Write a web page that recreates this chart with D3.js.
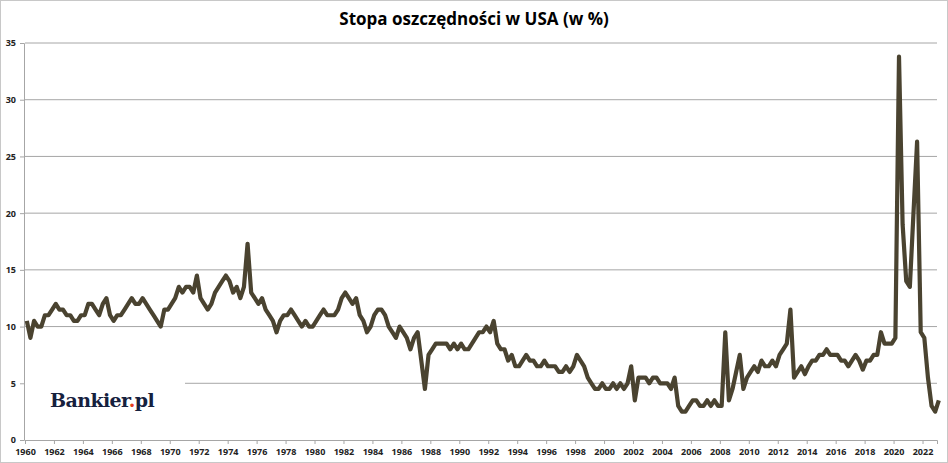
<!DOCTYPE html>
<html><head><meta charset="utf-8">
<script src="https://cdn.jsdelivr.net/npm/d3@7"></script>
<style>body{margin:0;background:#fff}svg{display:block}</style>
</head><body><div id="chart"></div>
<script>
// quarterly readings, 1960 Q1 .. 2022 Q4, then Jan 2023
const startYear = 1960;
const savingRate = [
  10.5, 9, 10.5, 10,   10, 11, 11, 11.5,   12, 11.5, 11.5, 11,   11, 10.5, 10.5, 11,
  11, 12, 12, 11.5,    11, 12, 12.5, 11,   10.5, 11, 11, 11.5,   12, 12.5, 12, 12,
  12.5, 12, 11.5, 11,  10.5, 10, 11.5, 11.5, 12, 12.5, 13.5, 13, 13.5, 13.5, 13, 14.5,
  12.5, 12, 11.5, 12,  13, 13.5, 14, 14.5, 14, 13, 13.5, 12.5,  13.5, 17.3, 13, 12.5,
  12, 12.5, 11.5, 11,  10.5, 9.5, 10.5, 11, 11, 11.5, 11, 10.5, 10, 10.5, 10, 10,
  10.5, 11, 11.5, 11,  11, 11, 11.5, 12.5, 13, 12.5, 12, 12.5, 11, 10.5, 9.5, 10,
  11, 11.5, 11.5, 11,  10, 9.5, 9, 10,     9.5, 9, 8, 9,        9.5, 7, 4.5, 7.5,
  8, 8.5, 8.5, 8.5,    8.5, 8, 8.5, 8,     8.5, 8, 8, 8.5,      9, 9.5, 9.5, 10,
  9.5, 10.5, 8.5, 8,   8, 7, 7.5, 6.5,     6.5, 7, 7.5, 7,      7, 6.5, 6.5, 7,
  6.5, 6.5, 6.5, 6,    6, 6.5, 6, 6.5,     7.5, 7, 6.5, 5.5,    5, 4.5, 4.5, 5,
  4.5, 4.5, 5, 4.5,    5, 4.5, 5, 6.5,     3.5, 5.5, 5.5, 5.5,  5, 5.5, 5.5, 5,
  5, 5, 4.5, 5.5,      3, 2.5, 2.5, 3,     3.5, 3.5, 3, 3,      3.5, 3, 3.5, 3,
  3, 9.5, 3.5, 4.5,    6, 7.5, 4.5, 5.5,   6, 6.5, 6, 7,        6.5, 6.5, 7, 6.5,
  7.5, 8, 8.5, 11.5,   5.5, 6, 6.5, 5.8,   6.5, 7, 7, 7.5,      7.5, 8, 7.5, 7.5,
  7.5, 7, 7, 6.5,      7, 7.5, 7, 6.2,     7, 7, 7.5, 7.5,      9.5, 8.5, 8.5, 8.5,
  9, 33.8, 19, 14,     13.5, 20, 26.3, 9.5, 9, 5.5, 3, 2.5,     3.5
];
const yTicks = [0, 5, 10, 15, 20, 25, 30, 35];
const xTicks = d3.range(1960, 2023, 2);
const title = "Stopa oszczędności w USA (w %)";

const W = 948, H = 463;
const svg = d3.select("#chart").append("svg").attr("width", W).attr("height", H);
svg.append("rect").attr("x", 0.5).attr("y", 0.5).attr("width", W - 1).attr("height", H - 1)
  .attr("fill", "#fff").attr("stroke", "#c8c8c8");

const x = d3.scaleLinear().domain([1960, 2023]).range([25, 937]);
const y = d3.scaleLinear().domain([0, 35]).range([440, 43]);

svg.append("text").attr("x", 474).attr("y", 25).attr("text-anchor", "middle")
  .attr("font-family", "Open Sans").attr("font-weight", "bold").attr("font-size", 17)
  .text(title);

// gridlines
svg.append("g").selectAll("line").data(yTicks.filter(d => d > 0)).join("line")
  .attr("x1", d => d === 5 ? 185 : x(1960)).attr("x2", 937)
  .attr("y1", d => y(d)).attr("y2", d => y(d))
  .attr("stroke", "#a6a6a6").attr("stroke-width", 1);

// axes
const yAxis = svg.append("g").attr("transform", `translate(${x(1960) - 1},0)`)
  .call(d3.axisLeft(y).tickValues(yTicks).tickSize(4));
const xAxis = svg.append("g").attr("transform", `translate(0,${y(0)})`)
  .call(d3.axisBottom(x).tickValues(xTicks).tickFormat(d3.format("d")).tickSize(4));
[yAxis, xAxis].forEach(g => {
  g.select(".domain").attr("stroke", "#a6a6a6");
  g.selectAll(".tick line").attr("stroke", "#a6a6a6");
  g.selectAll("text").attr("font-family", "Open Sans").attr("font-weight", "bold")
    .attr("font-size", 9).attr("fill", "#222");
});
yAxis.selectAll("text").attr("x", -8);
xAxis.selectAll("text").attr("y", 9);

// logo
const logo = svg.append("text").attr("x", 50).attr("y", 407)
  .attr("font-family", "DejaVu Serif").attr("font-weight", "bold").attr("font-size", 19)
  .attr("fill", "#16213e").attr("letter-spacing", -0.6);
logo.append("tspan").text("Bankier");
logo.append("tspan").attr("fill", "#e8401c").text(".");
logo.append("tspan").text("pl");

const line = d3.line().x((d, i) => x(startYear + i / 4 + 0.125)).y(d => y(d));
svg.append("path").datum(savingRate).attr("d", line)
  .attr("fill", "none").attr("stroke", "#4a4330").attr("stroke-width", 4.2)
  .attr("stroke-linejoin", "round");
</script>
</body></html>
